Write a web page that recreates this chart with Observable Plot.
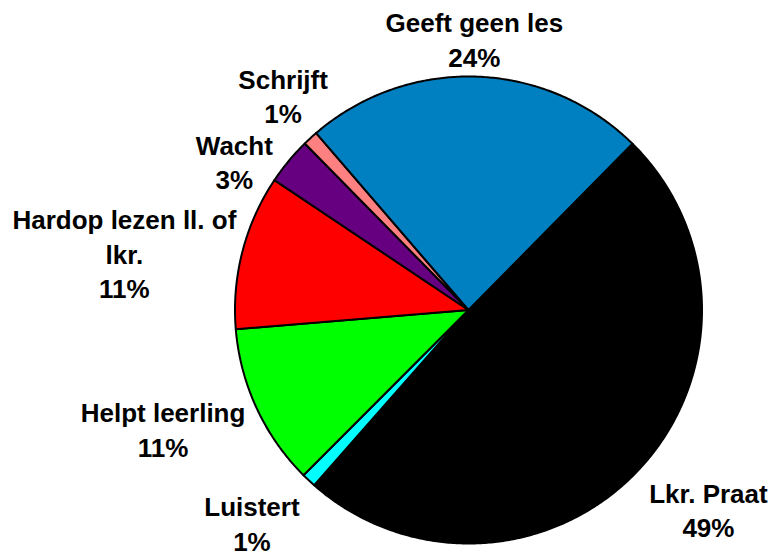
<!DOCTYPE html>
<html><head><meta charset="utf-8">
<script src="https://cdn.jsdelivr.net/npm/d3@7"></script>
<script src="https://cdn.jsdelivr.net/npm/@observablehq/plot@0.6"></script>
<style>html,body{margin:0;padding:0;background:#fff}</style>
</head><body><div id="chart"></div>
<script>
// ---- data ----
const categories = ["Lkr. Praat", "Luistert", "Helpt leerling", "Hardop lezen ll. of\nlkr.", "Wacht", "Schrijft", "Geeft geen les"];
const shares = [49.1, 1.0, 11.2, 10.7, 3.25, 1.05, 23.7];
const colors = ["#000000", "#00FFFF", "#00FF00", "#FF0000", "#660080", "#FF8080", "#0080C0"];

// ---- layout ----
const W = 774, H = 554, CX = 468, CY = 309.5, R = 233.5;
const startDeg = 44.6;
// label placement relative to slice mid-angle (deg shift, radius factor)
const labelLayout = [
  {da: -3.35, k: 1.334},
  {da: 2.4, k: 1.299},
  {da: 3.7, k: 1.403},
  {da: -5.1, k: 1.494},
  {da: -7.15, k: 1.189},
  {da: 1.85, k: 1.216},
  {da: -0.7, k: 1.163}
];

const rad = Math.PI / 180;
const arcs = d3.pie().sort(null).value(d => d)
  .startAngle(startDeg * rad).endAngle((startDeg + 360) * rad)(shares);

const marks = [];
arcs.forEach((a, i) => {
  const pts = [{x: 0, y: 0}];
  const n = Math.max(4, Math.ceil((a.endAngle - a.startAngle) / (0.5 * rad)));
  for (let j = 0; j <= n; j++) {
    const t = a.startAngle + (a.endAngle - a.startAngle) * j / n;
    pts.push({x: Math.sin(t), y: Math.cos(t)});
  }
  marks.push(Plot.line(pts, {x: "x", y: "y", fill: colors[i], stroke: "#000", strokeWidth: 2,
    strokeLinejoin: "round", curve: "linear-closed"}));
});

const labels = arcs.map((a, i) => {
  const mid = (a.startAngle + a.endAngle) / 2 + labelLayout[i].da * rad;
  const k = labelLayout[i].k;
  return {x: Math.sin(mid) * k, y: Math.cos(mid) * k,
          text: categories[i] + "\n" + Math.round(shares[i]) + "%"};
});

marks.push(Plot.text(labels, {x: "x", y: "y", text: "text", fontSize: 26, fontWeight: "bold",
  fontFamily: "'Liberation Sans', Arial, sans-serif", lineHeight: 1.32, fill: "#000",
  textAnchor: "middle", lineAnchor: "middle"}));

const chart = Plot.plot({
  width: W, height: H, margin: 0,
  x: {domain: [-CX / R, (W - CX) / R], axis: null},
  y: {domain: [-(H - CY) / R, CY / R], axis: null},
  style: {background: "#fff", overflow: "visible"},
  marks
});
document.getElementById("chart").appendChild(chart);
</script>
</body></html>
